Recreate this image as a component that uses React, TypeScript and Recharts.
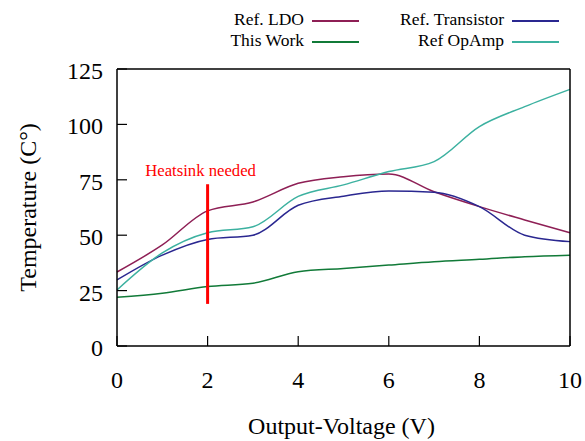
import { LineChart, Line, XAxis, YAxis, ReferenceLine, ReferenceDot, Label } from "recharts";

const voltage = [0, 1, 2, 3, 4, 5, 6, 7, 8, 9, 10];
const refLdo = [33.4, 45.6, 61, 65, 73.4, 76.4, 77.6, 69.6, 62.9, 56.9, 51.1];
const refTransistor = [29.8, 41, 48.1, 50, 63.5, 67.6, 70, 69.4, 62.9, 50, 47.1];
const thisWork = [22, 23.8, 26.8, 28.3, 33.5, 35, 36.5, 38, 39.1, 40.3, 41];
const refOpAmp = [25.3, 42, 51.1, 53.8, 67.5, 72.7, 78.7, 83.2, 99, 108, 115.8];

const xTicks = [0, 2, 4, 6, 8, 10];
const yTicks = [0, 25, 50, 75, 100, 125];

const seriesNames = ["Ref. LDO", "Ref. Transistor", "This Work", "Ref OpAmp"];
const seriesColors = ["#8e1f55", "#2a2790", "#117a38", "#3cb1a0"];

const data = voltage.map((v, i) => ({
  v,
  ldo: refLdo[i],
  tr: refTransistor[i],
  tw: thisWork[i],
  op: refOpAmp[i],
}));
const keys = ["ldo", "tr", "tw", "op"];

const font = "'Liberation Serif', 'DejaVu Serif', serif";

// legend cells: [text right edge, row centre]
const legendPos = [
  [304, 20],
  [504, 20],
  [304, 41],
  [504, 41],
];

function Legend2() {
  return (
    <>
      {seriesNames.map((n, i) => {
        const [rx, cy] = legendPos[i];
        return (
          <div key={n}>
            <div
              style={{
                position: "absolute",
                right: 585 - rx,
                top: cy - 12,
                fontFamily: font,
                fontSize: 17.5,
                lineHeight: "22px",
                whiteSpace: "nowrap",
              }}
            >
              {n}
            </div>
            <div style={{ position: "absolute", left: rx + 8, top: cy, width: 47, height: 1.6, background: seriesColors[i] }} />
          </div>
        );
      })}
    </>
  );
}

const XTick = ({ x, y, payload }: any) => (
  <text x={x} y={y} textAnchor="middle" fontFamily={font} fontSize={24} fill="#000">
    {payload.value}
  </text>
);

const YTick = ({ x, y, payload }: any) => (
  <text x={x} y={y + 10} textAnchor="end" fontFamily={font} fontSize={24} fill="#000">
    {payload.value}
  </text>
);

export default function App() {
  const axisLine = { stroke: "#000", strokeWidth: 1.5 };
  const tickLine = { stroke: "#000", strokeWidth: 1.2 };
  return (
    <div style={{ position: "absolute", left: 0, top: 0, width: 585, height: 441, background: "#fff" }}>
      <LineChart width={585} height={441} data={data} margin={{ top: 0, right: 0, bottom: 0, left: 0 }}>
        <XAxis
          dataKey="v"
          type="number"
          domain={[0, 10]}
          ticks={xTicks}
          height={95}
          tickSize={-10}
          tickMargin={52}
          tick={XTick}
          axisLine={axisLine}
          tickLine={tickLine}
        >
          <Label
            content={({ viewBox }: any) => (
              <text x={viewBox.x + viewBox.width / 2 - 2} y={434} textAnchor="middle" fontFamily={font} fontSize={24}>
                Output-Voltage (V)
              </text>
            )}
          />
        </XAxis>
        <XAxis
          xAxisId="t"
          orientation="top"
          dataKey="v"
          type="number"
          domain={[0, 10]}
          ticks={xTicks}
          height={69}
          tickSize={-10}
          tick={false}
          axisLine={axisLine}
          tickLine={tickLine}
        />
        <YAxis
          type="number"
          domain={[0, 125]}
          ticks={yTicks}
          width={117}
          tickSize={-10}
          tickMargin={24}
          tick={YTick}
          axisLine={axisLine}
          tickLine={tickLine}
        >
          <Label
            content={({ viewBox }: any) => (
              <text
                x={36}
                y={viewBox.y + viewBox.height / 2}
                transform={`rotate(-90 36 ${viewBox.y + viewBox.height / 2})`}
                textAnchor="middle"
                fontFamily={font}
                fontSize={24}
              >
                Temperature (C°)
              </text>
            )}
          />
        </YAxis>
        <YAxis
          yAxisId="r"
          orientation="right"
          type="number"
          domain={[0, 125]}
          ticks={yTicks}
          width={15}
          tickSize={-10}
          tick={false}
          axisLine={axisLine}
          tickLine={tickLine}
        />
        {keys.map((k, i) => (
          <Line
            key={k}
            dataKey={k}
            name={seriesNames[i]}
            type="monotone"
            stroke={seriesColors[i]}
            strokeWidth={1.5}
            dot={false}
            isAnimationActive={false}
          />
        ))}
        <ReferenceLine
          segment={[
            { x: 2, y: 19 },
            { x: 2, y: 73 },
          ]}
          stroke="#ff0000"
          strokeWidth={3}
        />
        <ReferenceDot x={2} y={79.5} r={0} fill="none" stroke="none">
          <Label
            content={({ viewBox }: any) => (
              <text
                x={viewBox.x - 7}
                y={viewBox.y + 6}
                textAnchor="middle"
                fontFamily={font}
                fontSize={16.7}
                fill="#ff0000"
              >
                Heatsink needed
              </text>
            )}
          />
        </ReferenceDot>
      </LineChart>
      <Legend2 />
    </div>
  );
}
